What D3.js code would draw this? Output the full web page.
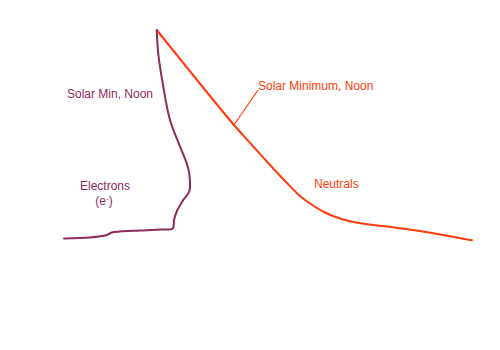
<!DOCTYPE html>
<html>
<head>
<meta charset="utf-8">
<script src="https://cdn.jsdelivr.net/npm/d3@7"></script>
<style>
html,body{margin:0;padding:0;background:#fff;}
svg{display:block;}
text{font-family:"Liberation Sans",Arial,sans-serif;font-size:12px;}
</style>
</head>
<body>
<svg id="chart" width="500" height="350"></svg>
<script>
// log10 density (arbitrary units) vs altitude (km)
const electronDensity = [4.67, 4.73, 4.93, 5.2, 5.6, 5.87, 5.97, 5.97, 5.73, 5.47, 5.36, 5.31, 4.8, 4.0, 3.2, 2.87, 2.67, 2.0, 0.96];
const electronAltitude = [540, 493, 427, 360, 307, 273, 253, 217, 200, 177, 160, 143, 141, 139, 137, 135, 130, 125, 123];
const neutralDensity = [4.67, 7.76, 8.53, 9.2, 9.84, 10.4, 10.92, 11.44, 12.0, 12.64, 13.87, 15.07, 17.31];
const neutralAltitude = [540, 350, 307, 270, 236, 208, 189, 174, 163, 155, 147, 139, 119];

const purple = "#8c2a5c";
const orange = "#ff3c0a";

const svg = d3.select("#chart");
const x = d3.scaleLinear().domain([0, 18]).range([40, 490]);
const y = d3.scaleLinear().domain([0, 540]).range([300, 30]);

const line = d3.line().x(d => x(d[0])).y(d => y(d[1])).curve(d3.curveCatmullRom.alpha(0.5));

const eData = electronDensity.map((v, i) => [v, electronAltitude[i]]);
const nData = neutralDensity.map((v, i) => [v, neutralAltitude[i]]);

svg.append("path").attr("d", line(nData)).attr("fill", "none")
  .attr("stroke", orange).attr("stroke-width", 2).attr("stroke-linejoin", "round");
svg.append("path").attr("d", line(eData)).attr("fill", "none")
  .attr("stroke", purple).attr("stroke-width", 2).attr("stroke-linejoin", "round").attr("stroke-linecap", "round");

// leader line for the neutral label
svg.append("line")
  .attr("x1", x(neutralDensity[1])).attr("y1", y(neutralAltitude[1]))
  .attr("x2", 258).attr("y2", 90)
  .attr("stroke", orange).attr("stroke-width", 1.2);

svg.append("text").attr("x", 258).attr("y", 89.5).attr("fill", orange).text("Solar Minimum, Noon");
svg.append("text").attr("x", 314).attr("y", 188).attr("fill", orange).text("Neutrals");
svg.append("text").attr("x", 67).attr("y", 98).attr("fill", purple).text("Solar Min, Noon");
svg.append("text").attr("x", 105).attr("y", 190).attr("fill", purple).attr("text-anchor", "middle").text("Electrons");
const t = svg.append("text").attr("x", 104).attr("y", 205).attr("fill", purple).attr("text-anchor", "middle");
t.append("tspan").text("(e");
t.append("tspan").attr("dy", -4).attr("font-size", "8px").text("-");
t.append("tspan").attr("dy", 4).text(")");
</script>
</body>
</html>
